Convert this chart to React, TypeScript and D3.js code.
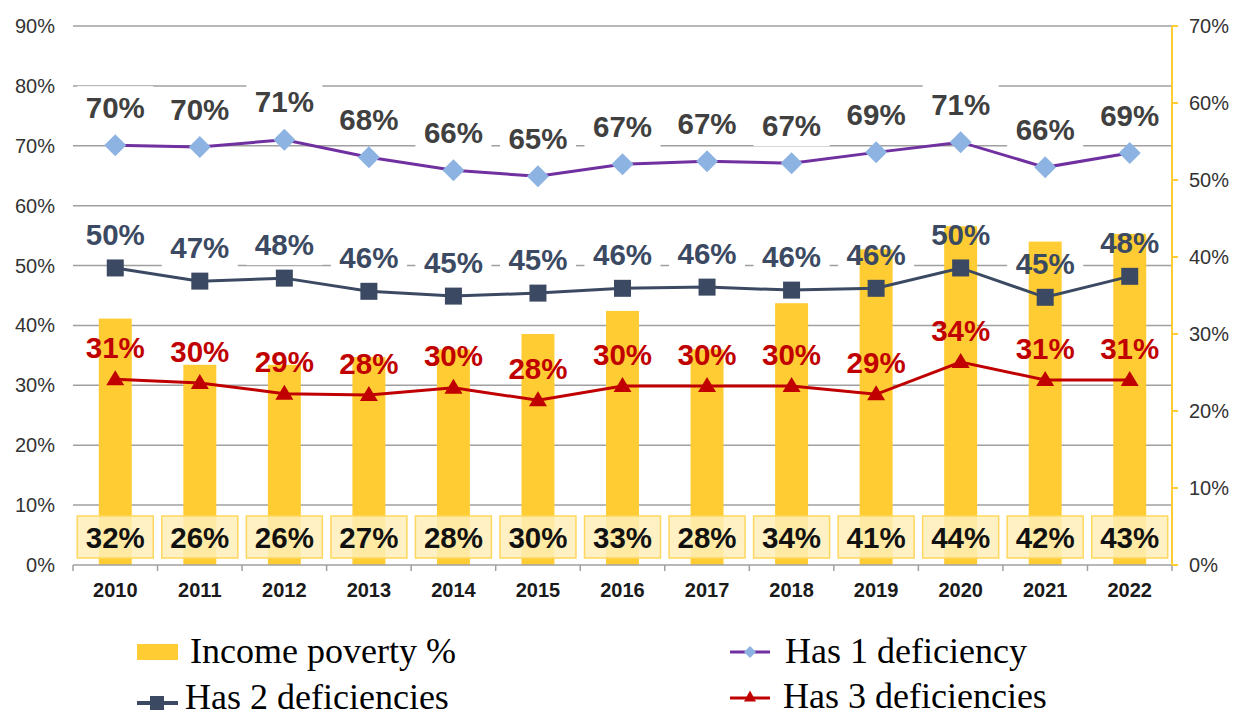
import React from "react";
import * as d3 from "d3";

const years = ["2010","2011","2012","2013","2014","2015","2016","2017","2018","2019","2020","2021","2022"];
const incomePoverty = [32, 26, 26, 27, 28, 30, 33, 28, 34, 41, 44, 42, 43];
const has1 = [70.1, 69.8, 71.0, 68.1, 65.9, 64.9, 66.9, 67.4, 67.1, 68.9, 70.6, 66.4, 68.8];
const has2 = [49.6, 47.4, 47.9, 45.7, 44.9, 45.4, 46.2, 46.4, 45.9, 46.2, 49.6, 44.7, 48.2];
const has3 = [31.0, 30.4, 28.6, 28.4, 29.6, 27.5, 29.9, 29.9, 29.9, 28.5, 33.9, 30.9, 30.9];
const leftTicks = [0, 10, 20, 30, 40, 50, 60, 70, 80, 90];
const rightTicks = [0, 10, 20, 30, 40, 50, 60, 70];

const W = 1235, H = 717;
const L = 73, R = 1172, T = 26, B = 565;
const SANS = "'Liberation Sans', Arial, sans-serif";
const SERIF = "'Liberation Serif', 'Times New Roman', serif";

const C_BAR = "#FFCD33";
const C_P1 = "#7030A0";
const C_D1 = "#8DB3E2";
const C_2 = "#3B4A62";
const C_3 = "#C00000";

export default function App() {
  const x = d3.scaleBand<string>().domain(years).range([L, R]).padding(0);
  const bw = x.bandwidth();
  const cx = (i: number) => (x(years[i]) as number) + bw / 2;
  const yL = d3.scaleLinear().domain([0, 90]).range([B, T]);
  const yR = d3.scaleLinear().domain([0, 70]).range([B, T]);
  const barW = bw * 0.39;
  const boxW = 76, boxH = 42;
  const LBL = 29.5;

  const line = (vals: number[]) =>
    d3.line<number>().x((_, i) => cx(i)).y((v) => yL(v))(vals) || "";

  const diamond = (px: number, py: number, r: number) =>
    `M${px},${py - r}L${px + r},${py}L${px},${py + r}L${px - r},${py}Z`;
  const tri = (px: number, py: number, w: number, h: number) =>
    `M${px},${py - h * 0.6}L${px + w / 2},${py + h * 0.4}L${px - w / 2},${py + h * 0.4}Z`;

  const fmt = (v: number) => `${Math.round(v)}%`;

  return (
    <svg width={W} height={H} style={{ position: "absolute", left: 0, top: 0, background: "#fff" }}>
      {/* gridlines */}
      {leftTicks.slice(1).map((t) => (
        <line key={"g" + t} x1={L} x2={R} y1={yL(t)} y2={yL(t)} stroke="#A0A0A0" strokeWidth={1.5} />
      ))}
      {/* white label backgrounds hiding gridlines */}
      {has1.map((v, i) => (
        <rect key={"b1" + i} x={cx(i) - boxW / 2} y={yL(v) - 38 - boxH / 2} width={boxW} height={boxH} fill="#fff" />
      ))}
      {has2.map((v, i) => (
        <rect key={"b2" + i} x={cx(i) - boxW / 2} y={yL(v) - 34 - boxH / 2} width={boxW} height={boxH} fill="#fff" />
      ))}
      {/* bars */}
      {incomePoverty.map((v, i) => (
        <rect key={"bar" + i} x={cx(i) - barW / 2} y={yR(v)} width={barW} height={B - yR(v)} fill={C_BAR} />
      ))}
      {/* bottom axis */}
      <line x1={L} x2={R} y1={B} y2={B} stroke="#A0A0A0" strokeWidth={1.5} />
      {years.map((yr, i) => (
        <line key={"tk" + i} x1={x(yr) as number} x2={x(yr) as number} y1={B} y2={B + 6} stroke="#A0A0A0" strokeWidth={1.5} />
      ))}
      <line x1={R} x2={R} y1={B} y2={B + 6} stroke="#A0A0A0" strokeWidth={1.5} />
      {years.map((yr, i) => (
        <text key={"yr" + i} x={cx(i)} y={597} textAnchor="middle" fontFamily={SANS} fontWeight="bold" fontSize={20} fill="#1a1a1a">{yr}</text>
      ))}
      {/* left axis labels */}
      {leftTicks.map((t) => (
        <text key={"lt" + t} x={55} y={yL(t)} dy="0.35em" textAnchor="end" fontFamily={SANS} fontSize={20} fill="#333">{t}%</text>
      ))}
      {/* right axis */}
      <line x1={R} x2={R} y1={T} y2={B} stroke={C_BAR} strokeWidth={2} />
      {rightTicks.map((t) => (
        <g key={"rt" + t}>
          <line x1={R} x2={R + 6} y1={yR(t)} y2={yR(t)} stroke={C_BAR} strokeWidth={2} />
          <text x={1189} y={yR(t)} dy="0.35em" fontFamily={SANS} fontSize={20} fill="#333">{t}%</text>
        </g>
      ))}
      {/* bottom value boxes */}
      {incomePoverty.map((v, i) => (
        <g key={"bx" + i}>
          <rect x={cx(i) - boxW / 2} y={537 - boxH / 2} width={boxW} height={boxH} fill="#FFEFB8" fillOpacity={0.85} stroke="#FFD75E" strokeWidth={1.5} />
          <text x={cx(i)} y={537} dy="0.36em" textAnchor="middle" fontFamily={SANS} fontWeight="bold" fontSize={LBL} fill="#111">{fmt(v)}</text>
        </g>
      ))}
      {/* lines */}
      <path d={line(has3)} fill="none" stroke={C_3} strokeWidth={3} />
      <path d={line(has2)} fill="none" stroke={C_2} strokeWidth={3} />
      <path d={line(has1)} fill="none" stroke={C_P1} strokeWidth={3} />
      {has1.map((v, i) => (
        <path key={"m1" + i} d={diamond(cx(i), yL(v), 11)} fill={C_D1} />
      ))}
      {has2.map((v, i) => (
        <rect key={"m2" + i} x={cx(i) - 8.5} y={yL(v) - 8.5} width={17} height={17} fill={C_2} />
      ))}
      {has3.map((v, i) => (
        <path key={"m3" + i} d={tri(cx(i), yL(v), 18, 15)} fill={C_3} />
      ))}
      {/* line labels */}
      {has1.map((v, i) => (
        <text key={"l1" + i} x={cx(i)} y={yL(v) - 38} dy="0.36em" textAnchor="middle" fontFamily={SANS} fontWeight="bold" fontSize={LBL} fill="#404040">{fmt(v)}</text>
      ))}
      {has2.map((v, i) => (
        <text key={"l2" + i} x={cx(i)} y={yL(v) - 34} dy="0.36em" textAnchor="middle" fontFamily={SANS} fontWeight="bold" fontSize={LBL} fill={C_2}>{fmt(v)}</text>
      ))}
      {has3.map((v, i) => (
        <text key={"l3" + i} x={cx(i)} y={yL(v) - 32} dy="0.36em" textAnchor="middle" fontFamily={SANS} fontWeight="bold" fontSize={LBL} fill={C_3}>{fmt(v)}</text>
      ))}
      {/* legend */}
      <rect x={137} y={644} width={41} height={16} fill={C_BAR} />
      <text x={190} y={663} fontFamily={SERIF} fontSize={36} fill="#000">Income poverty %</text>
      <line x1={730} x2={770} y1={652} y2={652} stroke={C_P1} strokeWidth={3} />
      <path d={diamond(750, 652, 6)} fill={C_D1} />
      <text x={785} y={663} fontFamily={SERIF} fontSize={36} fill="#000">Has 1 deficiency</text>
      <line x1={137} x2={178} y1={703} y2={703} stroke={C_2} strokeWidth={4} />
      <rect x={150} y={696} width={14} height={14} fill={C_2} />
      <text x={185} y={709} fontFamily={SERIF} fontSize={36} fill="#000">Has 2 deficiencies</text>
      <line x1={730} x2={770} y1={698} y2={698} stroke={C_3} strokeWidth={3} />
      <path d={tri(750, 697, 12, 11)} fill={C_3} />
      <text x={783} y={708} fontFamily={SERIF} fontSize={36} fill="#000">Has 3 deficiencies</text>
    </svg>
  );
}
